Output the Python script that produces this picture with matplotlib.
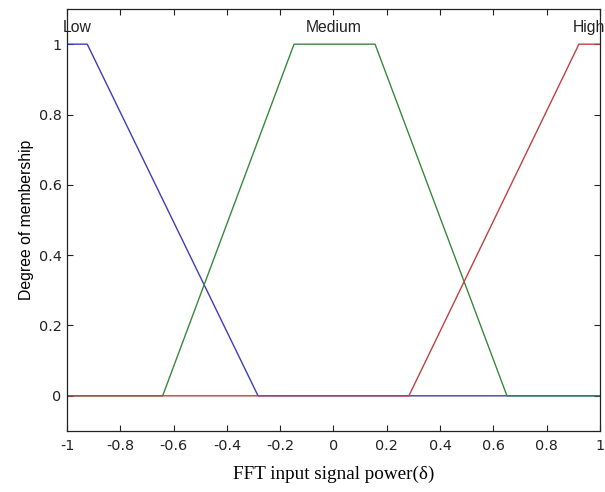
import numpy as np
import matplotlib
matplotlib.use('Agg')
import matplotlib.pyplot as plt

# membership function breakpoints (trapezoids) on the [-1, 1] universe
mf_names = ['Low', 'Medium', 'High']
low_x = [-1.0, -0.924, -0.283, 1.0]
low_y = [1.0, 1.0, 0.0, 0.0]
med_x = [-1.0, -0.641, -0.148, 0.156, 0.651, 1.0]
med_y = [0.0, 0.0, 1.0, 1.0, 0.0, 0.0]
high_x = [-1.0, 0.283, 0.921, 1.0]
high_y = [0.0, 0.0, 1.0, 1.0]
label_x = [-0.962, 0.0, 0.96]

xticks = [-1, -0.8, -0.6, -0.4, -0.2, 0, 0.2, 0.4, 0.6, 0.8, 1]
yticks = [0, 0.2, 0.4, 0.6, 0.8, 1]

fig = plt.figure(figsize=(6.05, 4.92), dpi=100)
ax = fig.add_axes([0.1107, 0.124, 0.881, 0.8577])

ax.plot(low_x, low_y, color='#3d3db8', lw=1.0)
ax.plot(med_x, med_y, color='#358a38', lw=1.0)
ax.plot(high_x, high_y, color='#c23f3f', lw=1.0)

for name, lx in zip(mf_names, label_x):
    ax.text(lx, 1.046, name, ha='center', va='center', fontsize=11.3,
            family='Liberation Sans', color='#222222', clip_on=False)

ax.set_xlim(-1, 1)
ax.set_ylim(-0.1, 1.1)
ax.set_xticks(xticks)
ax.set_yticks(yticks)
ax.set_xticklabels(['%g' % t for t in xticks], family='DejaVu Sans', fontsize=10.4)
ax.set_yticklabels(['%g' % t for t in yticks], family='DejaVu Sans', fontsize=10.4)
ax.tick_params(direction='in', top=True, right=True, length=4, width=0.8,
               colors='#222222', pad=6)
ax.tick_params(axis='y', pad=4)
for s in ax.spines.values():
    s.set_linewidth(0.9)
    s.set_color('#222222')

ax.set_xlabel('FFT input signal power(\u03b4)', family='Liberation Serif',
              fontsize=13.8, labelpad=9)
ax.set_ylabel('Degree of membership', family='Liberation Sans', fontsize=11.3,
              labelpad=3.5)

fig.savefig('out.png', dpi=100)
